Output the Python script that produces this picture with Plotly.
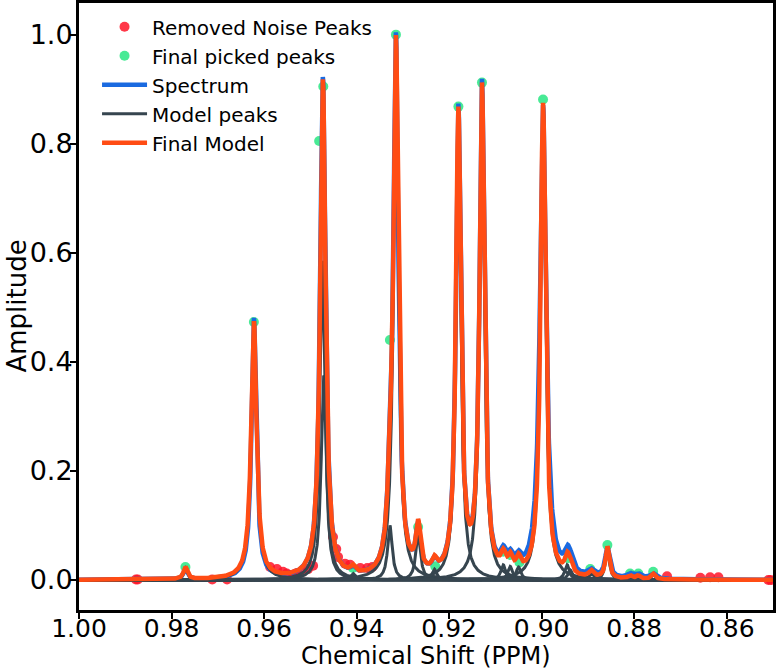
import numpy as np
import plotly.graph_objects as go

# Model peak parameters (centre ppm, amplitude, half width)
peak_centers = [0.9770, 0.9622, 0.9471, 0.9474, 0.9408, 0.9328, 0.9315, 0.9267, 0.9232,
                0.9180, 0.9129, 0.9083, 0.9068, 0.9050, 0.8997, 0.8945, 0.8938, 0.8893,
                0.8858, 0.8809, 0.8791, 0.8759]
peak_heights = [0.022, 0.472, 0.375, 0.585, 0.012, 0.100, 0.975, 0.085, 0.020,
                0.850, 0.895, 0.028, 0.025, 0.024, 0.870, 0.028, 0.018, 0.012,
                0.058, 0.006, 0.006, 0.010]
peak_widths = [0.0005, 0.0007, 0.00065, 0.00065, 0.0006, 0.0006, 0.00065, 0.0006, 0.0006,
               0.00062, 0.00062, 0.0006, 0.0006, 0.0006, 0.00065, 0.0006, 0.0006, 0.0006,
               0.0005, 0.0005, 0.0005, 0.0005]

# measured spectrum differs a little from the fit
spec_heights = [0.018, 0.478, 0.380, 0.585, 0.010, 0.100, 0.980, 0.080, 0.018,
                0.855, 0.900, 0.030, 0.025, 0.022, 0.865, 0.030, 0.020, 0.012,
                0.055, 0.008, 0.008, 0.010]
spec_widths = [0.0005, 0.00062, 0.00065, 0.00065, 0.0006, 0.0006, 0.00065, 0.0006, 0.0006,
               0.00062, 0.00062, 0.0007, 0.0007, 0.0007, 0.0008, 0.0008, 0.0008, 0.0008,
               0.0006, 0.0008, 0.0008, 0.0008]

# picked peaks kept after noise filtering
picked_x = [0.9770, 0.9622, 0.9472, 0.9481, 0.9408, 0.9328, 0.9315, 0.9267, 0.9230,
            0.9180, 0.9129, 0.9083, 0.9068, 0.9048, 0.8997, 0.8943, 0.8895, 0.8858,
            0.8809, 0.8791, 0.8759]
picked_y = [0.024, 0.473, 0.905, 0.805, 0.022, 0.440, 1.000, 0.097, 0.025,
            0.868, 0.912, 0.052, 0.046, 0.032, 0.881, 0.040, 0.020, 0.064,
            0.012, 0.012, 0.015]

# peaks removed as noise
noise_x = [0.9877, 0.9873, 0.9712, 0.9680, 0.9587, 0.9572, 0.9559, 0.9551, 0.9544, 0.9536,
           0.9529, 0.9516, 0.9505, 0.9494, 0.9451, 0.9444, 0.9440, 0.9425, 0.9414, 0.9392,
           0.9377, 0.9366, 0.8729, 0.8657, 0.8636, 0.8618, 0.8510, 0.8505]
noise_y = [0.001, 0.001, 0.001, 0.001, 0.024, 0.020, 0.015, 0.012, 0.009, 0.010,
           0.013, 0.015, 0.020, 0.026, 0.079, 0.057, 0.042, 0.030, 0.028, 0.022,
           0.022, 0.024, 0.007, 0.004, 0.005, 0.005, 0.000, 0.000]

x_ticks = [1.00, 0.98, 0.96, 0.94, 0.92, 0.90, 0.88, 0.86]
y_ticks = [0.0, 0.2, 0.4, 0.6, 0.8, 1.0]

ppm = np.linspace(1.0, 0.85, 4000)


def lorentz(x, c, h, w):
    return h / (1 + ((x - c) / w) ** 2)


model_peaks = [lorentz(ppm, c, h, w) for c, h, w in zip(peak_centers, peak_heights, peak_widths)]
final_model = np.sum(model_peaks, axis=0)
spectrum = np.sum([lorentz(ppm, c, h, w) for c, h, w in zip(peak_centers, spec_heights, spec_widths)], axis=0)

font = "DejaVu Sans"
fig = go.Figure()

fig.add_trace(go.Scatter(x=noise_x, y=noise_y, mode="markers", name="Removed Noise Peaks",
                         marker=dict(color="rgba(255,20,40,0.85)", size=10)))
fig.add_trace(go.Scatter(x=picked_x, y=picked_y, mode="markers", name="Final picked peaks",
                         marker=dict(color="rgba(40,230,130,0.85)", size=10)))
fig.add_trace(go.Scatter(x=ppm, y=spectrum, mode="lines", name="Spectrum",
                         line=dict(color="#1a6ae0", width=4.5)))
for i, pk in enumerate(model_peaks):
    fig.add_trace(go.Scatter(x=ppm, y=pk, mode="lines", name="Model peaks",
                             legendgroup="model", showlegend=(i == 0),
                             line=dict(color="#36454f", width=3)))
fig.add_trace(go.Scatter(x=ppm, y=final_model, mode="lines", name="Final Model",
                         line=dict(color="#ff4c14", width=4.5)))

axis_style = dict(ticks="outside", ticklen=6, tickwidth=2, tickcolor="black",
                  showline=True, linecolor="black", linewidth=3, mirror=True,
                  showgrid=False, zeroline=False, automargin=False)
fig.update_xaxes(range=[1.0, 0.85], tickvals=x_ticks, tickformat=".2f", ticklabelstandoff=-12,
                 tickfont=dict(size=25, color="black"), **axis_style)
fig.update_yaxes(range=[-0.055, 1.058], tickvals=y_ticks, tickformat=".1f", ticklabelstandoff=-8,
                 tickfont=dict(size=27, color="black"), **axis_style)

# axis titles placed as annotations so they sit exactly where the reference has them
fig.add_annotation(text="Chemical Shift (PPM)", xref="paper", yref="paper", x=0.5, y=0,
                   xanchor="center", yanchor="bottom", yshift=-62, showarrow=False,
                   font=dict(size=24, color="black"))
fig.add_annotation(text="Amplitude", xref="paper", yref="paper", x=0, y=0.5,
                   xanchor="center", yanchor="middle", xshift=-63, textangle=-90,
                   showarrow=False, font=dict(size=26, color="black"))

fig.update_layout(
    width=778, height=672,
    margin=dict(l=79, r=5, t=3, b=62),
    paper_bgcolor="white", plot_bgcolor="white",
    font=dict(family=font, color="black"),
    legend=dict(x=0.026, y=0.993, xanchor="left", yanchor="top", bgcolor="rgba(0,0,0,0)",
                font=dict(size=20, color="black"), itemwidth=45, tracegroupgap=0),
)

fig.write_html("out.html", config={"displayModeBar": False},
               post_script="document.body.style.margin='0';")
